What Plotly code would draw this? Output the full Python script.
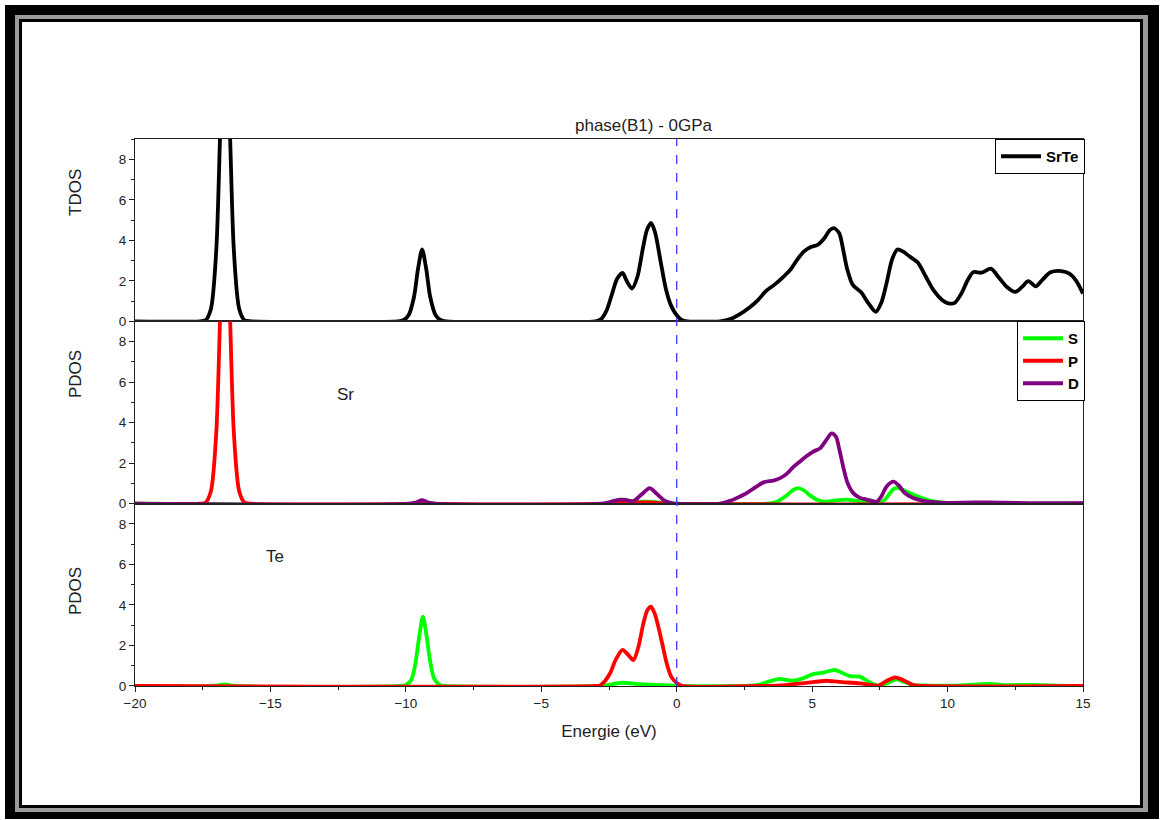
import plotly.graph_objects as go
from plotly.subplots import make_subplots

# ---------------- data ----------------
tdos_e = [-20, -17.6, -17.4, -17.2, -17.0, -16.85, -16.68, -16.5, -16.35, -16.15, -15.95, -15.7,
          -10.3, -10.1, -9.9, -9.7, -9.55, -9.4, -9.25, -9.1, -8.9, -8.7, -8.5,
          -3.0, -2.8, -2.6, -2.4, -2.2, -2.0, -1.85, -1.65, -1.45, -1.25, -1.1, -0.95, -0.8, -0.6, -0.4, -0.2, 0.0, 0.2, 0.4,
          1.6, 2.0, 2.3, 2.7, 3.0, 3.3, 3.6, 3.9, 4.2, 4.45, 4.7, 4.95, 5.2, 5.45, 5.65, 5.8, 6.0, 6.15, 6.3, 6.5, 6.8,
          7.1, 7.35, 7.55, 7.75, 7.95, 8.15, 8.35, 8.6, 8.9, 9.2, 9.5, 9.8, 10.0, 10.25, 10.5, 10.75, 10.95, 11.25,
          11.6, 11.9, 12.2, 12.5, 12.75, 12.98, 13.25, 13.5, 13.8, 14.2, 14.5, 14.75, 15.0]
tdos_v = [0, 0, 0.05, 0.6, 3.5, 9.5, 15, 9.5, 3.5, 0.6, 0.05, 0,
          0, 0.05, 0.3, 1.2, 2.6, 3.55, 2.6, 1.2, 0.3, 0.05, 0,
          0, 0.1, 0.5, 1.3, 2.1, 2.39, 2.0, 1.62, 2.2, 3.6, 4.5, 4.86, 4.4, 3.0, 1.6, 0.75, 0.3, 0.05, 0,
          0, 0.12, 0.33, 0.7, 1.05, 1.5, 1.8, 2.15, 2.55, 3.05, 3.45, 3.67, 3.77, 4.1, 4.5, 4.6, 4.35, 3.5, 2.55, 1.8, 1.45,
          0.85, 0.47, 0.9, 1.9, 3.05, 3.55, 3.45, 3.2, 2.9, 2.2, 1.5, 1.05, 0.9, 0.9, 1.35, 2.05, 2.43, 2.4,
          2.6, 2.15, 1.68, 1.45, 1.7, 1.98, 1.73, 2.05, 2.42, 2.48, 2.35, 2.0, 1.37]

sr_s_e = [-20, -2.6, -2.3, -2.05, -1.7, -1.2, -0.8, -0.3, 0.0, 3.3, 3.7, 4.06, 4.3, 4.5, 4.7, 4.92, 5.2, 5.45,
          5.8, 6.25, 6.6, 7.0, 7.5, 7.75, 8.0, 8.15, 8.4, 8.73, 9.05, 9.35, 9.7, 10.0, 10.5, 15]
sr_s_v = [0, 0, 0.1, 0.2, 0.12, 0.1, 0.08, 0.02, 0, 0, 0.1, 0.41, 0.68, 0.77, 0.65, 0.41, 0.18, 0.1,
          0.15, 0.2, 0.15, 0.08, 0.03, 0.3, 0.72, 0.78, 0.65, 0.45, 0.28, 0.15, 0.07, 0.03, 0, 0]

sr_p_e = [-20, -17.6, -17.4, -17.2, -17.0, -16.85, -16.68, -16.5, -16.35, -16.15, -15.95, -15.7,
          -9.7, -9.4, -9.1, -2.5, -2.0, -1.0, -0.3, 15]
sr_p_v = [0, 0, 0.05, 0.6, 3.5, 9.5, 15, 9.5, 3.5, 0.6, 0.05, 0,
          0, 0.05, 0, 0, 0.05, 0.06, 0, 0]

sr_d_e = [-20, -9.9, -9.6, -9.4, -9.2, -8.9, -2.8, -2.5, -2.1, -1.85, -1.6, -1.3, -1.0, -0.75, -0.45, -0.15, 0.0,
          1.6, 2.0, 2.3, 2.58, 2.9, 3.2, 3.57, 3.8, 4.06, 4.3, 4.55, 4.8, 5.04, 5.29, 5.5, 5.72, 5.88, 6.0, 6.15,
          6.3, 6.52, 6.75, 7.01, 7.25, 7.4, 7.55, 7.75, 8.0, 8.2, 8.4, 8.73, 9.1, 9.5, 10.0, 11.0, 12.0, 13.0, 15]
sr_d_v = [0, 0, 0.07, 0.17, 0.07, 0, 0, 0.07, 0.2, 0.18, 0.13, 0.45, 0.77, 0.5, 0.15, 0.02, 0,
          0, 0.15, 0.33, 0.52, 0.8, 1.05, 1.14, 1.25, 1.47, 1.8, 2.08, 2.35, 2.57, 2.73, 3.1, 3.47, 3.3, 2.7, 1.8,
          1.05, 0.52, 0.3, 0.2, 0.12, 0.11, 0.35, 0.85, 1.09, 0.9, 0.55, 0.28, 0.14, 0.07, 0.04, 0.06, 0.05, 0.03, 0.02]

te_s_e = [-20, -17.1, -16.7, -16.3, -10.2, -10.0, -9.8, -9.65, -9.5, -9.37, -9.25, -9.1, -8.95, -8.75, -8.55,
          -2.8, -2.5, -2.0, -1.5, -1.0, -0.5, 0.0, 2.6, 3.0, 3.4, 3.81, 4.05, 4.3, 4.6, 5.04, 5.41, 5.84, 6.1,
          6.39, 6.76, 7.1, 7.44, 7.8, 8.12, 8.4, 8.73, 9.5, 10.5, 11.57, 12.2, 13.0, 14.0, 15]
te_s_v = [0, 0, 0.08, 0, 0, 0.05, 0.3, 1.1, 2.5, 3.42, 2.6, 1.2, 0.35, 0.05, 0,
          0, 0.06, 0.16, 0.1, 0.07, 0.04, 0.01, 0, 0.05, 0.22, 0.35, 0.3, 0.26, 0.35, 0.59, 0.66, 0.79, 0.65,
          0.49, 0.46, 0.2, 0.02, 0.15, 0.33, 0.2, 0.05, 0.02, 0.03, 0.1, 0.04, 0.06, 0.02, 0.01]

te_p_e = [-20, -3.0, -2.83, -2.65, -2.46, -2.25, -2.0, -1.8, -1.6, -1.42, -1.23, -1.08, -0.95, -0.82, -0.68,
          -0.52, -0.37, -0.2, 0.0, 0.25, 3.0, 3.8, 4.5, 5.1, 5.53, 6.0, 6.76, 7.2, 7.44, 7.75, 8.06, 8.35, 8.73, 9.2, 15]
te_p_v = [0, 0, 0.03, 0.25, 0.63, 1.3, 1.78, 1.55, 1.28, 1.9, 3.09, 3.75, 3.92, 3.6, 2.93,
          2.0, 1.12, 0.45, 0.15, 0, 0, 0.03, 0.12, 0.2, 0.26, 0.2, 0.13, 0.05, 0.02, 0.25, 0.43, 0.3, 0.05, 0, 0]

x_ticks = [-20, -15, -10, -5, 0, 5, 10, 15]
y_ticks = [0, 2, 4, 6, 8]

GREEN = "#00ff00"
RED = "#ff0000"
PURPLE = "#800080"
BLACK = "#000000"
FONT = "Liberation Sans, Arial, sans-serif"
TXT = "#222222"

# ---------------- figure ----------------
fig = make_subplots(rows=3, cols=1, shared_xaxes=True, vertical_spacing=0)

def line(x, y, color, name, row, legend, show=True):
    fig.add_trace(go.Scatter(x=x, y=y, mode="lines", name=name, cliponaxis=False,
                             line=dict(color=color, width=3.8, shape="spline", smoothing=0.8),
                             showlegend=show, legend=legend), row=row, col=1)

line(tdos_e, tdos_v, BLACK, "<b>SrTe</b>", 1, "legend")
line(sr_s_e, sr_s_v, GREEN, "<b>S</b>", 2, "legend2")
line(sr_p_e, sr_p_v, RED, "<b>P</b>", 2, "legend2")
line(sr_d_e, sr_d_v, PURPLE, "<b>D</b>", 2, "legend2")
line(te_s_e, te_s_v, GREEN, "S", 3, "legend2", show=False)
line(te_p_e, te_p_v, RED, "P", 3, "legend2", show=False)

L, R, T, B = 135, 1083, 139, 686
W, H = R - L, B - T

def px(xp):
    return (xp - L) / W

def py(yp):
    return (B - yp) / H

for r in (1, 2, 3):
    fig.update_yaxes(range=[0, 9], tickvals=y_ticks, ticks="outside", ticklen=5, tickwidth=1,
                     tickcolor=TXT, showline=True, linecolor=TXT, linewidth=1, mirror=True,
                     showgrid=False, zeroline=False,
                     minor=dict(ticks="outside", dtick=1, ticklen=3, tickcolor=TXT),
                     tickfont=dict(family=FONT, size=13.5, color=TXT), row=r, col=1)
    fig.update_xaxes(range=[-20, 15], showline=True, linecolor=TXT, linewidth=1, mirror=True,
                     showgrid=False, zeroline=False, row=r, col=1)

fig.update_xaxes(ticks="", showticklabels=False, row=1, col=1)
fig.update_xaxes(ticks="", showticklabels=False, row=2, col=1)
fig.update_xaxes(tickvals=x_ticks, ticks="outside", ticklen=5, tickwidth=1, tickcolor=TXT,
                 minor=dict(ticks="outside", dtick=2.5, ticklen=3, tickcolor=TXT),
                 tickfont=dict(family=FONT, size=13.5, color=TXT),
                 title=dict(text="Energie (eV)", font=dict(family=FONT, size=17, color=TXT), standoff=14),
                 row=3, col=1)

# frame around the whole picture
shapes = [
    dict(type="rect", xref="paper", yref="paper", x0=px(5), x1=px(1159), y0=py(5), y1=py(819),
         fillcolor="#000", line=dict(width=0), layer="below"),
    dict(type="rect", xref="paper", yref="paper", x0=px(15), x1=px(1148), y0=py(15), y1=py(812),
         fillcolor="#9a9a9a", line=dict(width=0), layer="below"),
    dict(type="rect", xref="paper", yref="paper", x0=px(19), x1=px(1143), y0=py(19), y1=py(808),
         fillcolor="#000", line=dict(width=0), layer="below"),
    dict(type="rect", xref="paper", yref="paper", x0=px(22), x1=px(1140), y0=py(22), y1=py(805),
         fillcolor="#fff", line=dict(width=0), layer="below"),
    dict(type="line", xref="x", yref="paper", x0=0, x1=0, y0=0, y1=1,
         line=dict(color="#3b3bff", width=1.3, dash="dash")),
]

def ann(text, x, y, angle=0, size=17):
    return dict(text=text, x=px(x), y=py(y), xref="paper", yref="paper", showarrow=False,
                xanchor="center", yanchor="middle", textangle=angle,
                font=dict(family=FONT, size=size, color=TXT))

annotations = [
    ann("phase(B1) - 0GPa", 644, 126),
    ann("TDOS", 75, 193, -90),
    ann("PDOS", 75, 374, -90),
    ann("PDOS", 75, 591, -90),
    ann("Sr", 345, 394),
    ann("Te", 275, 556),
]

fig.update_layout(
    width=1160, height=820,
    margin=dict(l=L, r=1160 - R, t=T, b=820 - B, autoexpand=False),
    paper_bgcolor="#ffffff", plot_bgcolor="rgba(0,0,0,0)",
    shapes=shapes, annotations=annotations,
    legend=dict(x=px(1085), xanchor="right", y=1.0, yanchor="top", bgcolor="#fff",
                bordercolor="#000", borderwidth=1, itemwidth=40,
                font=dict(family=FONT, size=15, color="#000"), tracegroupgap=0),
    legend2=dict(x=px(1085), xanchor="right", y=py(321), yanchor="top", bgcolor="#fff",
                 bordercolor="#000", borderwidth=1, itemwidth=40,
                 font=dict(family=FONT, size=15, color="#000"), tracegroupgap=0),
    showlegend=True,
)

fig.write_html("out.html", config={"displayModeBar": False},
               post_script="document.body.style.margin='0px';")
